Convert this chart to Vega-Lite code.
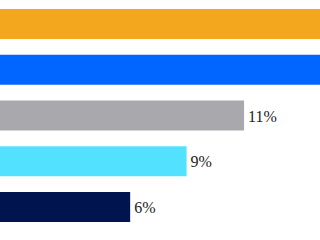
{
  "$schema": "https://vega.github.io/schema/vega-lite/v6.json",
  "width": 320,
  "height": 231,
  "autosize": "none",
  "padding": 0,
  "background": "white",
  "view": {"stroke": null},
  "data": {
    "values": [
      {"cat": "A", "value": 20, "label": "", "color": "#F2A71E"},
      {"cat": "B", "value": 18, "label": "", "color": "#0066FF"},
      {"cat": "C", "value": 11.25, "label": "11%", "color": "#A9A8AC"},
      {"cat": "D", "value": 8.6, "label": "9%", "color": "#52E2FF"},
      {"cat": "E", "value": 6.0, "label": "6%", "color": "#00154F"}
    ]
  },
  "encoding": {
    "y": {
      "field": "cat",
      "type": "nominal",
      "sort": null,
      "axis": null,
      "scale": {"paddingInner": 0.344, "paddingOuter": 0.197}
    },
    "x": {
      "field": "value",
      "type": "quantitative",
      "axis": null,
      "scale": {"domain": [0, 14.75], "nice": false, "zero": true}
    }
  },
  "layer": [
    {
      "mark": {"type": "bar", "clip": true},
      "encoding": {
        "color": {"field": "color", "type": "nominal", "scale": null}
      }
    },
    {
      "mark": {
        "type": "text",
        "clip": true,
        "align": "left",
        "baseline": "middle",
        "dx": 4,
        "dy": 1,
        "font": "Liberation Serif, Times New Roman, serif",
        "fontSize": 16,
        "color": "#222222"
      },
      "encoding": {
        "text": {"field": "label"}
      }
    }
  ]
}
